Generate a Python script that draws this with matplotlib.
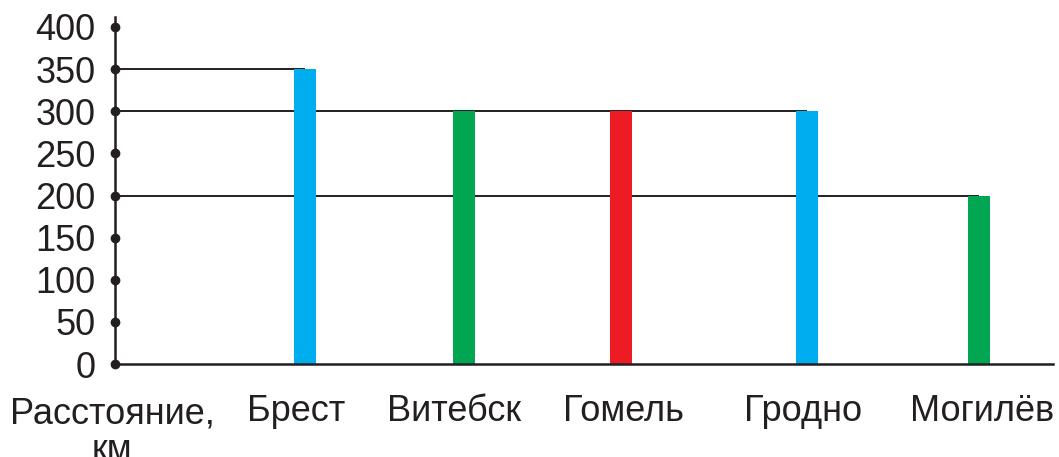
"""
bar chart: distances (km) to regional centres
"""

import matplotlib
matplotlib.use('Agg')
import matplotlib.pyplot as plt

# data
cities    = ['Брест', 'Витебск', 'Гомель', 'Гродно', 'Могилёв']
distances = [350, 300, 300, 300, 200]
y_ticks   = [0, 50, 100, 150, 200, 250, 300, 350, 400]
y_label   = 'Расстояние,\nкм'

# layout (pixel-like units along x, axis at 0)
bar_pos   = [190, 349, 505.5, 692, 864]
label_pos = [181, 339, 508, 688, 867]
bar_width = 22
colors    = ['#00aeef', '#00a651', '#ed1c24', '#00aeef', '#00a651']
ink       = '#231f20'
ftsize    = 26

W, H = 1059, 457
plt.rcParams['font.family'] = ['Liberation Sans', 'DejaVu Sans']

fig = plt.figure(figsize=(W / 100, H / 100), dpi=100)
ax = fig.add_axes([115 / W, (H - 364) / H, (1053 - 115) / W, (364 - 17) / H])

px_per_km = (364 - 27) / 400.
ax.set_xlim(0, 1053 - 115)
ax.set_ylim(0, (364 - 17) / px_per_km)

# guide lines from the axis to the bar tops
ax.hlines(350, 0, bar_pos[0], color=ink, lw=1.4, zorder=1)
ax.hlines(300, 0, bar_pos[3], color=ink, lw=1.4, zorder=1)
ax.hlines(200, 0, bar_pos[4], color=ink, lw=1.4, zorder=1)

ax.bar(bar_pos, distances, width=bar_width, color=colors, zorder=2)

for s in ['top', 'right']:
    ax.spines[s].set_visible(False)
for s in ['left', 'bottom']:
    ax.spines[s].set_color(ink)
    ax.spines[s].set_linewidth(1.8)
    ax.spines[s].set_zorder(3)

ax.plot([0] * len(y_ticks), y_ticks, 'o', color=ink, ms=6, clip_on=False, zorder=4)

ax.set_yticks(y_ticks)
ax.set_yticklabels([str(t) for t in y_ticks], fontsize=ftsize, color=ink)
ax.tick_params(axis='y', length=0, pad=14)
ax.set_xticks([])

for x, name in zip(label_pos, cities):
    ax.text(x, -56, name, fontsize=ftsize, color=ink, ha='center', va='center')
ax.text(-3, -38, y_label, fontsize=ftsize, color=ink, ha='center', va='top',
        linespacing=1.08)

fig.savefig('out.png', dpi=100)
